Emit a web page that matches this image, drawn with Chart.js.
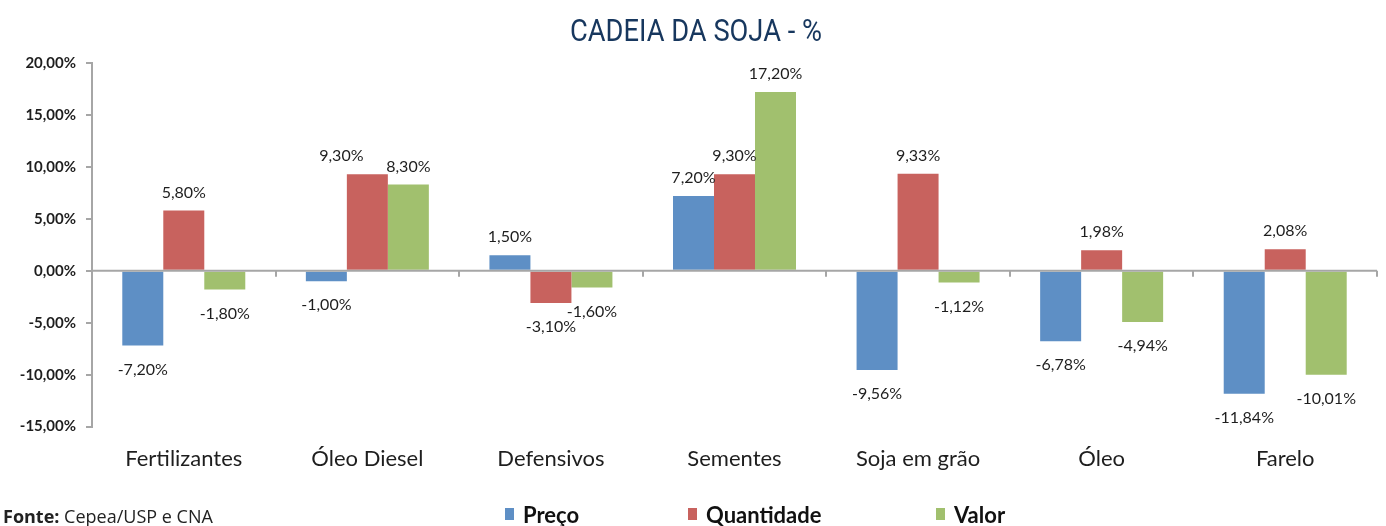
<!DOCTYPE html>
<html>
<head>
<meta charset="utf-8">
<script src="https://cdn.jsdelivr.net/npm/chart.js@4.4.1/dist/chart.umd.min.js"></script>
<style>
html,body{margin:0;padding:0;background:#fff;}
#wrap{width:1386px;height:526px;position:relative;}
</style>
</head>
<body>
<div id="wrap"><canvas id="c" width="1386" height="526"></canvas></div>
<script>
const categories = ['Fertilizantes', 'Óleo Diesel', 'Defensivos', 'Sementes', 'Soja em grão', 'Óleo', 'Farelo'];
const preco      = [-7.20, -1.00, 1.50, 7.20, -9.56, -6.78, -11.84];
const quantidade = [5.80, 9.30, -3.10, 9.30, 9.33, 1.98, 2.08];
const valor      = [-1.80, 8.30, -1.60, 17.20, -1.12, -4.94, -10.01];
const seriesNames = ['Preço', 'Quantidade', 'Valor'];
const yTicks = [20, 15, 10, 5, 0, -5, -10, -15];
const titleText = 'CADEIA DA SOJA - %';
const sourceBold = 'Fonte:';
const sourceText = ' Cepea/USP e CNA';

const colors = ['#5E8FC5', '#C8625E', '#A1C06E'];
const fmt = v => v.toFixed(2).replace('.', ',') + '%';
const labelFont = '16px Lato, "Liberation Sans", sans-serif';

const labelShift = {'1-1': -26}; // dataset-index: x shift (Excel label placement)

const decorPlugin = {
  id: 'decor',
  afterDatasetsDraw(chart) {
    const ctx = chart.ctx;
    const xs = chart.scales.x, ys = chart.scales.y;
    const y0 = ys.getPixelForValue(0);
    ctx.save();
    // zero line with category boundary ticks
    ctx.strokeStyle = '#A6A6A6';
    ctx.lineWidth = 2;
    ctx.beginPath();
    ctx.moveTo(xs.left, y0);
    ctx.lineTo(xs.right, y0);
    const n = categories.length;
    const step = (xs.right - xs.left) / n;
    for (let k = 1; k <= n; k++) {
      const px = Math.round(xs.left + step * k);
      ctx.moveTo(px, y0);
      ctx.lineTo(px, y0 + 6);
    }
    ctx.stroke();
    // data labels
    ctx.font = labelFont;
    ctx.fillStyle = '#1E1E1E';
    ctx.textAlign = 'center';
    ctx.textBaseline = 'middle';
    chart.data.datasets.forEach((ds, di) => {
      const meta = chart.getDatasetMeta(di);
      meta.data.forEach((el, i) => {
        const v = ds.data[i];
        const shift = labelShift[di + '-' + i] || 0;
        const ty = v >= 0 ? el.y - 18 : el.y + 24;
        ctx.fillText(fmt(v), el.x + shift, ty);
      });
    });
    // title (condensed)
    ctx.fillStyle = '#17375E';
    ctx.font = '32px Roboto, "Liberation Sans", sans-serif';
    ctx.textAlign = 'center';
    ctx.textBaseline = 'alphabetic';
    const tw = ctx.measureText(titleText).width;
    const sx = 252 / tw;
    ctx.save();
    ctx.translate(696, 41);
    ctx.scale(sx, 1);
    ctx.fillText(titleText, 0, 0);
    ctx.restore();
    // source
    ctx.textAlign = 'left';
    ctx.fillStyle = '#222';
    ctx.font = 'bold 18px "Open Sans", sans-serif';
    ctx.fillText(sourceBold, 3, 523);
    const w = ctx.measureText(sourceBold).width;
    ctx.font = '18px "Open Sans", sans-serif';
    ctx.fillText(sourceText, 3 + w, 523);
    // legend
    const legX = [505, 688, 936];
    ctx.font = 'bold 22px Lato, sans-serif';
    chart.data.datasets.forEach((ds, di) => {
      ctx.fillStyle = ds.backgroundColor;
      ctx.fillRect(legX[di], 508, 9, 12);
      ctx.fillStyle = '#111';
      ctx.fillText(ds.label, legX[di] + 18, 523);
    });
    ctx.restore();
  }
};

new Chart(document.getElementById('c'), {
  type: 'bar',
  data: {
    labels: categories,
    datasets: [
      {label: seriesNames[0], data: preco, backgroundColor: colors[0]},
      {label: seriesNames[1], data: quantidade, backgroundColor: colors[1]},
      {label: seriesNames[2], data: valor, backgroundColor: colors[2]}
    ]
  },
  options: {
    responsive: false,
    animation: false,
    events: [],
    layout: {padding: {top: 63, right: 9, bottom: 35, left: 0}},
    datasets: {bar: {barPercentage: 1.0, categoryPercentage: 0.67}},
    plugins: {legend: {display: false}, title: {display: false}, tooltip: {enabled: false}},
    scales: {
      x: {
        grid: {display: false, drawTicks: false},
        border: {display: false},
        ticks: {padding: 19, color: '#1E1E1E', font: {family: 'Lato', size: 22}}
      },
      y: {
        min: -15, max: 20,
        afterFit(scale) { scale.width = 92; },
        afterBuildTicks(scale) { scale.ticks = yTicks.map(v => ({value: v})); },
        grid: {display: true, drawOnChartArea: false, drawTicks: true, tickLength: 6, color: '#A6A6A6', lineWidth: 2},
        border: {display: true, color: '#A6A6A6', width: 2},
        ticks: {padding: 10, color: '#1E1E1E', font: {family: 'Lato', size: 15, weight: 'bold'},
          callback: v => fmt(v)}
      }
    }
  },
  plugins: [decorPlugin]
});
</script>
</body>
</html>
